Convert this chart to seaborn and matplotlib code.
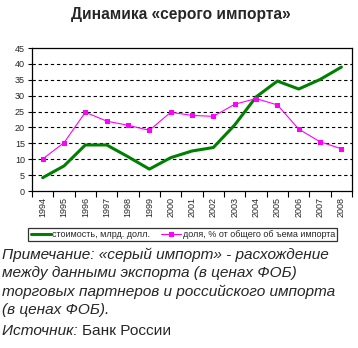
import numpy as np
import pandas as pd
import matplotlib
matplotlib.use("Agg")
import matplotlib.pyplot as plt
import seaborn as sns
from matplotlib.ticker import FixedLocator, NullFormatter

years = ["1994", "1995", "1996", "1997", "1998", "1999", "2000", "2001",
         "2002", "2003", "2004", "2005", "2006", "2007", "2008"]
value_bn_usd = [4.2, 7.9, 14.5, 14.5, 10.8, 6.9, 10.5, 12.6, 13.7, 20.8,
                29.6, 34.6, 32.1, 35.1, 39.0]
share_pct = [10.1, 15.2, 24.8, 22.0, 20.7, 19.1, 24.8, 23.8, 23.5, 27.3,
             29.1, 27.1, 19.5, 15.5, 13.3]
series_names = ["стоимость, млрд. долл.", "доля, % от общего об ъема импорта"]
yticks = [0, 5, 10, 15, 20, 25, 30, 35, 40, 45]

sns.set_theme(style="white")
plt.rcParams["font.family"] = ["Liberation Sans", "DejaVu Sans"]

pos = np.arange(len(years))
df = pd.DataFrame({"pos": pos, "value": value_bn_usd, "share": share_pct})

fig = plt.figure(figsize=(3.58, 3.48), dpi=100)
ax = fig.add_axes([0.0894, 0.451, 0.894, 0.411])

sns.lineplot(data=df, x="pos", y="value", ax=ax, color="#008000",
             linewidth=2.2, label=series_names[0])
sns.lineplot(data=df, x="pos", y="share", ax=ax, color="#FF00FF",
             linewidth=0.8, marker="s", markersize=3.6, markeredgewidth=0,
             label=series_names[1])

ax.set_xlim(-0.5, len(years) - 0.5)
ax.set_ylim(0, 45)
ax.set_yticks(yticks)
ax.set_yticklabels([str(v) for v in yticks], fontsize=6.5)
ax.set_xticks(pos)
ax.set_xticklabels(years, rotation=90, fontsize=6.5)
ax.xaxis.set_minor_locator(FixedLocator(np.arange(-0.5, len(years), 1.0)))
ax.xaxis.set_minor_formatter(NullFormatter())
ax.tick_params(axis="x", which="major", length=0, pad=4)
ax.tick_params(axis="x", which="minor", length=4, width=0.8, color="black",
               bottom=True)
ax.tick_params(axis="y", length=3, width=0.8, color="black", left=True, pad=2)
ax.set_xlabel("")
ax.set_ylabel("")
for ytick in yticks[1:-1]:
    ax.axhline(ytick, color="black", linestyle=(0, (3, 2.5)), linewidth=0.8,
               zorder=0)
for sp in ax.spines.values():
    sp.set_color("black")
    sp.set_linewidth(0.9)

handles, labels = ax.get_legend_handles_labels()
ax.get_legend().remove()
handles[0].set_marker("")
leg = fig.legend(handles, labels, loc="center", bbox_to_anchor=(0.511, 0.326),
                 ncol=2, fontsize=6.5, frameon=True, fancybox=False,
                 edgecolor="black", borderpad=0.25, handlelength=2.2,
                 handletextpad=0.2, columnspacing=1.2)
leg.get_frame().set_linewidth(0.9)

fig.text(0.505, 0.957, "Динамика «серого импорта»", ha="center", va="center",
         fontsize=11.2, fontweight="bold")

note_size = 11.1
note_lines = [
    "Примечание: «серый импорт» - расхождение",
    "между данными экспорта (в ценах ФОБ)",
    "торговых партнеров и российского импорта",
    "(в ценах ФОБ).",
]
line_y = [255, 273, 292, 310]
for txt, yp in zip(note_lines, line_y):
    fig.text(2 / 358, 1 - yp / 348, txt, ha="left", va="center",
             fontsize=note_size, fontstyle="italic")

src = fig.text(2 / 358, 1 - 331 / 348, "Источник: ", ha="left", va="center",
               fontsize=note_size, fontstyle="italic")
fig.canvas.draw()
bb = src.get_window_extent(fig.canvas.get_renderer())
fig.text(bb.x1 / fig.bbox.width, 1 - 331 / 348, "Банк России", ha="left",
         va="center", fontsize=note_size)

fig.savefig("out.png", dpi=100, facecolor="white")
